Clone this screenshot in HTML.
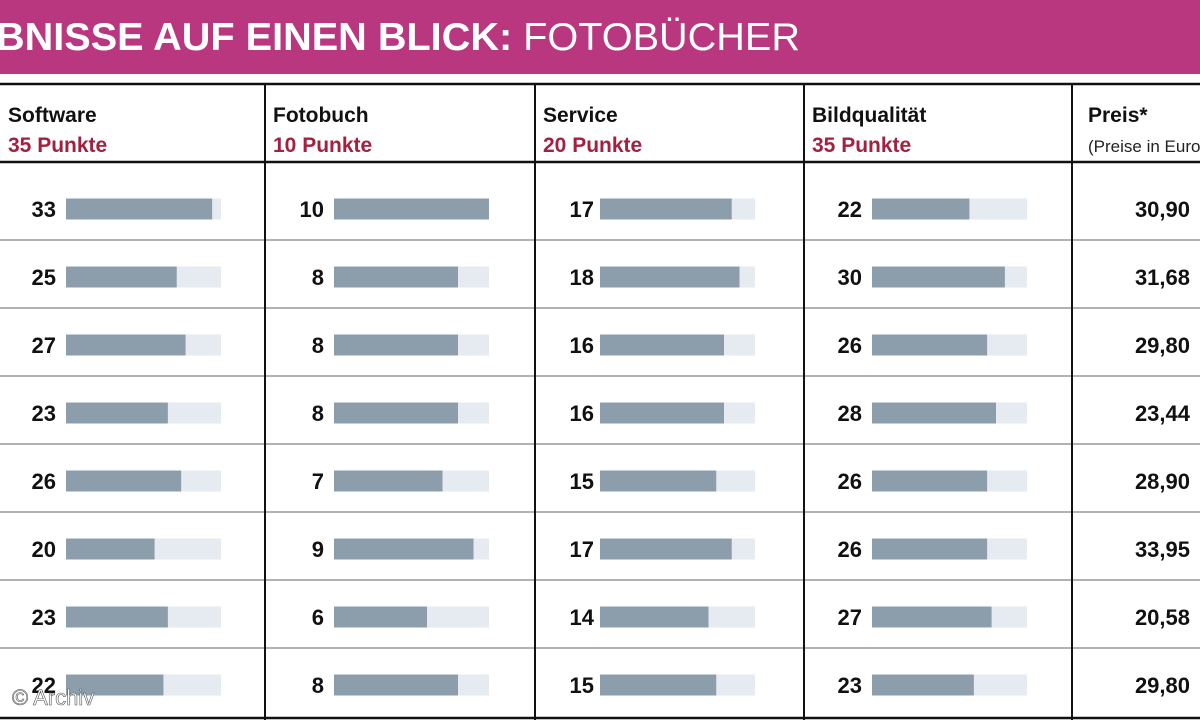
<!DOCTYPE html>
<html><head><meta charset="utf-8"><style>
body{margin:0;width:1200px;height:720px;overflow:hidden;background:#fff;font-family:"Liberation Sans Narrow","Liberation Sans",sans-serif}
svg text{font-family:"Liberation Sans Narrow","Liberation Sans",sans-serif}
</style></head><body>
<svg id="c" width="1200" height="720" xmlns="http://www.w3.org/2000/svg">
<rect x="0" y="0" width="1200" height="74" fill="#b8377f"/>
<text x="-4" y="50" fill="#fff" font-size="39" textLength="804" lengthAdjust="spacingAndGlyphs"><tspan font-weight="bold">BNISSE AUF EINEN BLICK:</tspan> FOTOBÜCHER</text>
<g id="grid"></g><g id="marks"></g>
<text x="12" y="705" fill="#fff" stroke="#555" stroke-width="0.6" font-size="22">© Archiv</text>
</svg>
<script>
const categories=["Software","Fotobuch","Service","Bildqualität"];
const maxPoints=[35,10,20,35];
const software=[33,25,27,23,26,20,23,22];
const fotobuch=[10,8,8,8,7,9,6,8];
const service=[17,18,16,16,15,17,14,15];
const bildqualitaet=[22,30,26,28,26,26,27,23];
const prices=["30,90","31,68","29,80","23,44","28,90","33,95","20,58","29,80"];
const series=[software,fotobuch,service,bildqualitaet];
const NS="http://www.w3.org/2000/svg";
const colX=[0,265,535,804,1072];
const trackX=[66,334,600,872], trackW=155;
const numRight=[56,324,594,862];
function rowY(i){return 209+i*68;}
function xScale(c,v){return v/maxPoints[c]*trackW;}
function mk(tag,attrs,parent){const e=document.createElementNS(NS,tag);for(const k in attrs)e.setAttribute(k,attrs[k]);parent.appendChild(e);return e;}
const grid=document.getElementById('grid'), marks=document.getElementById('marks');
for(let i=0;i<series[0].length-1;i++){
 const y=rowY(i)+31;
 const l=mk('line',{x1:0,x2:1200,y1:y,y2:y,stroke:'#999','stroke-width':1.5},grid);
 
 
}
[[84,2.5],[162,2.5],[718,2.5]].forEach(([y,w])=>{
 const l=mk('line',{x1:0,x2:1200,y1:y,y2:y,stroke:'#111','stroke-width':w},grid);
 
 
});
colX.slice(1).forEach(x=>{
 const l=mk('line',{x1:x,x2:x,y1:84,y2:720,stroke:'#111','stroke-width':2},grid);
 
 
});
categories.forEach((c,ci)=>{
 const t=mk('text',{x:colX[ci]+8,y:122,'font-size':21,'font-weight':'bold',fill:'#111'},grid);t.textContent=c;
 
 
 const s=mk('text',{x:colX[ci]+8,y:152,'font-size':21,'font-weight':'bold',fill:'#a3203f'},grid);s.textContent=maxPoints[ci]+" Punkte";
 
 
});
const ph=mk('text',{x:1088,y:122,'font-size':21,'font-weight':'bold',fill:'#111'},grid);ph.textContent="Preis*";


const ps=mk('text',{x:1088,y:152,'font-size':17,fill:'#222'},grid);ps.textContent="(Preise in Euro)";


series.forEach((arr,ci)=>{
 arr.forEach((v,i)=>{
  const y=rowY(i);
  const tr=mk('rect',{x:trackX[ci],y:y-10.5,width:trackW,height:21,fill:'#e6ebf1'},marks);
  
  
  const b=mk('rect',{x:trackX[ci],y:y-10.5,width:xScale(ci,v),height:21,fill:'#8c9eac'},marks);
  
  
  const t=mk('text',{x:numRight[ci],y:y+8,'font-size':22,'font-weight':'bold','text-anchor':'end',fill:'#111'},marks);t.textContent=v;
  
  
 });
});
prices.forEach((p,i)=>{
 const t=mk('text',{x:1190,y:rowY(i)+8,'font-size':22,'font-weight':'bold','text-anchor':'end',fill:'#111'},marks);t.textContent=p;
 
 
});
</script>
</body></html>
